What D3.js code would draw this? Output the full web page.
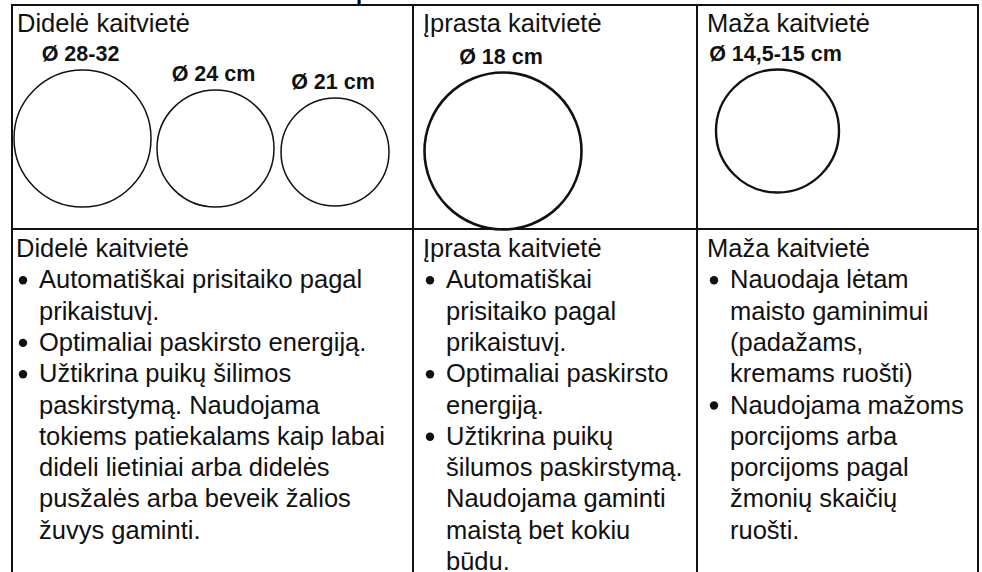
<!DOCTYPE html>
<html>
<head>
<meta charset="utf-8">
<script src="https://cdn.jsdelivr.net/npm/d3@7"></script>
<style>
  html, body { margin: 0; padding: 0; background: #fff; }
  svg { display: block; }
  text { font-family: "Liberation Sans", Arial, Helvetica, sans-serif; fill: #111; }
</style>
</head>
<body>
<svg id="chart" width="982" height="572"></svg>
<script>
// ---------- DATA ----------
const zones = ["Didelė kaitvietė", "Įprasta kaitvietė", "Maža kaitvietė"];

// circles in the top row: zone index, diameter label, drawn diameter (relative units)
const circleZone   = [0, 0, 0, 1, 2];
const circleLabels = ["Ø 28-32", "Ø 24 cm", "Ø 21 cm", "Ø 18 cm", "Ø 14,5-15 cm"];
const circleSizes  = [137, 117, 108, 157, 123];

// description bullets (each bullet = list of wrapped lines)
const descLarge = [
  ["Automatiškai prisitaiko pagal", "prikaistuvį."],
  ["Optimaliai paskirsto energiją."],
  ["Užtikrina puikų šilimos", "paskirstymą. Naudojama", "tokiems patiekalams kaip labai",
   "dideli lietiniai arba didelės", "pusžalės arba beveik žalios", "žuvys gaminti."]
];
const descNormal = [
  ["Automatiškai", "prisitaiko pagal", "prikaistuvį."],
  ["Optimaliai paskirsto", "energiją."],
  ["Užtikrina puikų", "šilumos paskirstymą.", "Naudojama gaminti", "maistą bet kokiu", "būdu."]
];
const descSmall = [
  ["Nauodaja lėtam", "maisto gaminimui", "(padažams,", "kremams ruošti)"],
  ["Naudojama mažoms", "porcijoms arba", "porcijoms pagal", "žmonių skaičių", "ruošti."]
];
const descriptions = [descLarge, descNormal, descSmall];

// ---------- LAYOUT ----------
const svg = d3.select("#chart");
const W = 982, H = 572;
const colEdges = [12, 413, 697, 978];   // table column borders
const topY = 5, rowY = 229;             // top border, row divider
const pad = 10;

// column scale: zone index -> left edge
const colX = d3.scaleOrdinal().domain(d3.range(zones.length)).range(colEdges.slice(0, 3));

// radius scale from drawn size units
const rScale = d3.scaleLinear().domain([0, 100]).range([0, 50]);

// circle positions within their cell (layout, not data)
const circleCX = [82.5, 215.5, 335, 503, 777.5];
const circleCY = [138.5, 148.5, 152, 151, 131];
const circleStroke = [1.5, 1.5, 1.5, 2.6, 2.4];

// clipped title fragment at the very top (the title itself lies above the crop)
svg.append("text")
  .attr("x", 356).attr("y", -1)
  .attr("font-size", 22).attr("font-weight", "bold")
  .style("fill", "#000")
  .text("p");

// ---------- TABLE LINES ----------
const g = svg.append("g");
g.append("line").attr("x1", colEdges[0]).attr("x2", colEdges[3])
  .attr("y1", topY).attr("y2", topY).attr("stroke", "#111").attr("stroke-width", 2);
g.append("line").attr("x1", colEdges[0]).attr("x2", colEdges[3])
  .attr("y1", rowY).attr("y2", rowY).attr("stroke", "#111").attr("stroke-width", 2);
g.selectAll("line.v").data(colEdges).join("line")
  .attr("class", "v")
  .attr("x1", d => d).attr("x2", d => d)
  .attr("y1", topY - 1).attr("y2", H)
  .attr("stroke", "#111").attr("stroke-width", 2);

// ---------- TOP ROW ----------
svg.selectAll("text.zoneTop").data(zones).join("text")
  .attr("class", "zoneTop")
  .attr("x", (d, i) => colX(i) + (i === 0 ? 5 : pad))
  .attr("y", 32)
  .attr("font-size", 25.5)
  .text(d => d);

const circles = circleSizes.map((s, i) => ({
  size: s, label: circleLabels[i], zone: circleZone[i],
  cx: circleCX[i], cy: circleCY[i], sw: circleStroke[i]
}));

svg.selectAll("circle.plate").data(circles).join("circle")
  .attr("class", "plate")
  .attr("cx", d => d.cx).attr("cy", d => d.cy)
  .attr("r", d => rScale(d.size))
  .attr("fill", "none").attr("stroke", "#111")
  .attr("stroke-width", d => d.sw);

svg.selectAll("text.dia").data(circles).join("text")
  .attr("class", "dia")
  .attr("x", d => d.cx - 2)
  .attr("y", d => d.cy - rScale(d.size) - 9)
  .attr("text-anchor", "middle")
  .attr("font-size", 21.5).attr("font-weight", "bold")
  .text(d => d.label);

// ---------- BOTTOM ROW ----------
const lineH = 31.3;
const headY = 257;
zones.forEach((z, i) => {
  const x0 = colX(i) + (i === 0 ? 4 : pad);
  svg.append("text").attr("x", x0).attr("y", headY)
    .attr("font-size", 25.5).text(z);
  let line = 1;
  descriptions[i].forEach(bullet => {
    svg.append("circle")
      .attr("cx", x0 + 7).attr("cy", headY + line * lineH - 8)
      .attr("r", 4.2).attr("fill", "#111");
    bullet.forEach(t => {
      svg.append("text").attr("x", x0 + 23).attr("y", headY + line * lineH)
        .attr("font-size", 25.5).text(t);
      line++;
    });
  });
});
</script>
</body>
</html>
